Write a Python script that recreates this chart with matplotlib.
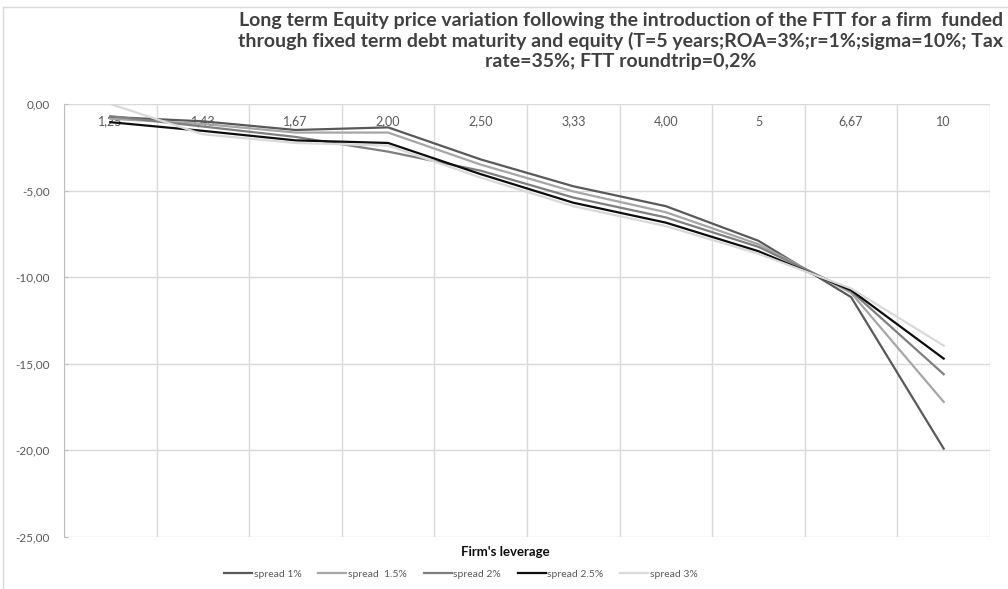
import matplotlib
matplotlib.use("Agg")
import matplotlib.pyplot as plt
import numpy as np
from matplotlib.lines import Line2D
from matplotlib.ticker import FuncFormatter

plt.rcParams["font.family"] = ["Lato", "DejaVu Sans"]

leverage = ["1,25", "1,43", "1,67", "2,00", "2,50", "3,33", "4,00", "5", "6,67", "10"]
spread_1 = [-0.75, -1.0, -1.5, -1.35, -3.2, -4.75, -5.9, -7.9, -11.15, -19.9]
spread_15 = [-0.85, -1.15, -1.65, -1.65, -3.5, -5.05, -6.25, -8.1, -10.9, -17.2]
spread_2 = [-0.7, -1.3, -1.9, -2.75, -3.85, -5.4, -6.55, -8.25, -10.8, -15.6]
spread_25 = [-1.05, -1.55, -2.1, -2.25, -4.05, -5.7, -6.85, -8.5, -10.75, -14.7]
spread_3 = [0.0, -1.75, -2.25, -2.4, -4.25, -5.9, -7.05, -8.65, -10.65, -13.95]

series = [
    ("spread 1%", spread_1, "#595959"),
    ("spread  1.5%", spread_15, "#a6a6a6"),
    ("spread 2%", spread_2, "#7f7f7f"),
    ("spread 2.5%", spread_25, "#0d0d0d"),
    ("spread 3%", spread_3, "#d9d9d9"),
]

fig = plt.figure(figsize=(10.08, 5.89), dpi=100)
ax = fig.add_axes([64 / 1008, 1 - 537 / 589, (990 - 64) / 1008, (537 - 104) / 589])

x = np.arange(len(leverage))
for name, vals, col in series:
    ax.plot(x, vals, color=col, lw=1.6, label=name, solid_joinstyle="round")

ax.set_xlim(-0.5, len(leverage) - 0.5)
ax.set_ylim(-25, 0)
ax.set_yticks(np.arange(-25, 1, 5))
ax.yaxis.set_major_formatter(FuncFormatter(lambda v, p: f"{v:.2f}".replace(".", ",")))

# category boundaries as vertical grid
ax.set_xticks(x)
ax.set_xticks(np.arange(-0.5, len(leverage), 1.0), minor=True)
ax.set_xticklabels(leverage)
ax.grid(True, which="minor", axis="x", color="#d9d9d9", lw=1)
ax.grid(True, which="major", axis="y", color="#d9d9d9", lw=1)
ax.set_axisbelow(True)
ax.tick_params(axis="x", which="both", bottom=False, top=False, labelbottom=False,
               labeltop=True, pad=-17, labelsize=9, labelcolor="#595959", length=0)
ax.tick_params(axis="y", direction="in", length=3, color="#bfbfbf",
               labelsize=8.5, labelcolor="#595959", pad=10)

for s in ["top", "right", "bottom"]:
    ax.spines[s].set_visible(False)
ax.spines["left"].set_color("#bfbfbf")

fig.text(0.616, 1 - 41 / 589,
         "Long term Equity price variation following the introduction of the FTT for a firm  funded\n"
         "through fixed term debt maturity and equity (T=5 years;ROA=3%;r=1%;sigma=10%; Tax\n"
         "rate=35%; FTT roundtrip=0,2%",
         ha="center", va="center", fontsize=14, fontweight="bold", color="#404040",
         linespacing=1.18)

fig.text(505 / 1008, 1 - 552 / 589, "Firm's leverage", ha="center", va="center",
         fontsize=9.5, fontweight="bold", color="#0d0d0d")

fig.legend(loc="center", bbox_to_anchor=(461 / 1008, 1 - 574 / 589), ncol=5,
           frameon=False, fontsize=7.5, handlelength=2.7, handletextpad=0.15,
           columnspacing=1.6, labelcolor="#595959")

# outer chart border
fig.add_artist(Line2D([3 / 1008, 3 / 1008], [0, 1 - 7 / 589], color="#d9d9d9", lw=1))
fig.add_artist(Line2D([3 / 1008, 1], [1 - 7 / 589, 1 - 7 / 589], color="#d9d9d9", lw=1))

fig.savefig("out.png", dpi=100)
